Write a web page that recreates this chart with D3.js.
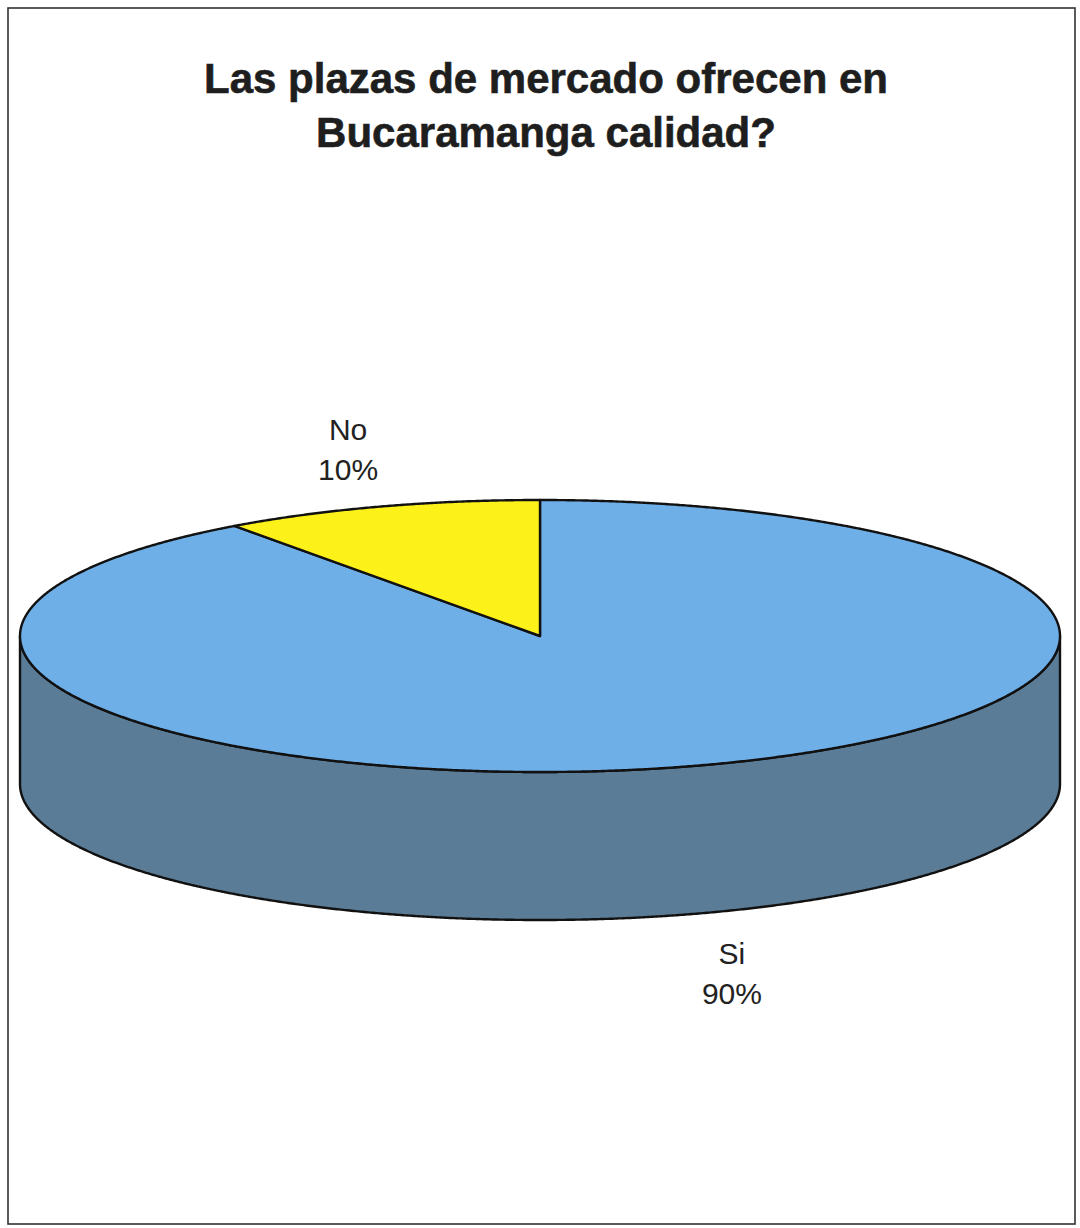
<!DOCTYPE html>
<html>
<head>
<meta charset="utf-8">
<script src="https://cdn.jsdelivr.net/npm/d3@7"></script>
<style>
  html, body { margin: 0; padding: 0; background: #ffffff; }
  svg { display: block; }
  text { font-family: "Liberation Sans", Arial, Helvetica, sans-serif; }
</style>
</head>
<body>
<script>
// Survey answers
const categories = ["Si", "No"];
const values = [90, 10];
const percentLabels = ["90%", "10%"];
const titleLines = ["Las plazas de mercado ofrecen en", "Bucaramanga calidad?"];

const colors = { Si: "#6fafe8", No: "#fcf21a" };
const sideColors = { Si: "#5b7c96", No: "#b0a816" };

const W = 1080, H = 1228;
const svg = d3.select("body").append("svg")
  .attr("width", W).attr("height", H);

// page frame
svg.append("rect")
  .attr("x", 8).attr("y", 8)
  .attr("width", 1067).attr("height", 1216)
  .attr("fill", "#fff").attr("stroke", "#333").attr("stroke-width", 1.6);

// title
svg.append("g").selectAll("text").data(titleLines).join("text")
  .attr("x", 546)
  .attr("y", (d, i) => 93 + i * 54)
  .attr("text-anchor", "middle")
  .attr("font-size", 42)
  .attr("font-weight", "bold")
  .attr("fill", "#1e1e1e")
  .attr("stroke", "#1e1e1e").attr("stroke-width", 0.6)
  .text(d => d);

// 3D pie geometry
const cx = 540, cy = 636, rx = 520, ry = 136, depth = 148;
const px = a => cx + rx * Math.sin(a);
const py = a => cy - ry * Math.cos(a);

const pie = d3.pie().sort(null).value(d => d.value);
const arcs = pie(categories.map((c, i) => ({ cat: c, value: values[i], pct: percentLabels[i] })));

const line = d3.line();
const step = Math.PI / 720;
function ellipsePts(a0, a1, dy) {
  const n = Math.max(2, Math.ceil(Math.abs(a1 - a0) / step));
  return d3.range(n + 1).map(k => {
    const a = a0 + (a1 - a0) * k / n;
    return [px(a), py(a) + dy];
  });
}

const g = svg.append("g");

// side walls (front half only: angles between PI/2 and 3PI/2)
arcs.forEach(d => {
  const s0 = Math.max(d.startAngle, Math.PI / 2);
  const s1 = Math.min(d.endAngle, 3 * Math.PI / 2);
  if (s1 <= s0) return;
  const pts = ellipsePts(s0, s1, 0).concat(ellipsePts(s1, s0, depth));
  g.append("path")
    .attr("d", line(pts) + "Z")
    .attr("fill", sideColors[d.data.cat])
    .attr("stroke", "#111").attr("stroke-width", 2.4)
    .attr("stroke-linejoin", "round");
});

// top faces
arcs.forEach(d => {
  const pts = [[cx, cy]].concat(ellipsePts(d.startAngle, d.endAngle, 0));
  g.append("path")
    .attr("d", line(pts) + "Z")
    .attr("fill", colors[d.data.cat])
    .attr("stroke", "#111").attr("stroke-width", 2.4)
    .attr("stroke-linejoin", "round");
});

// data labels placed outside each slice at its mid angle
const lrx = 621, lry = 198;
const labels = svg.append("g").selectAll("g").data(arcs).join("g")
  .attr("transform", d => {
    const a = (d.startAngle + d.endAngle) / 2;
    const x = cx + lrx * Math.sin(a);
    let y = cy - lry * Math.cos(a);
    if (Math.cos(a) < 0) y += depth;
    return `translate(${x},${y})`;
  });
labels.append("text")
  .attr("text-anchor", "middle").attr("y", -8)
  .attr("font-size", 30).attr("fill", "#222")
  .text(d => d.data.cat);
labels.append("text")
  .attr("text-anchor", "middle").attr("y", 32)
  .attr("font-size", 30).attr("fill", "#222")
  .text(d => d.data.pct);
</script>
</body>
</html>
